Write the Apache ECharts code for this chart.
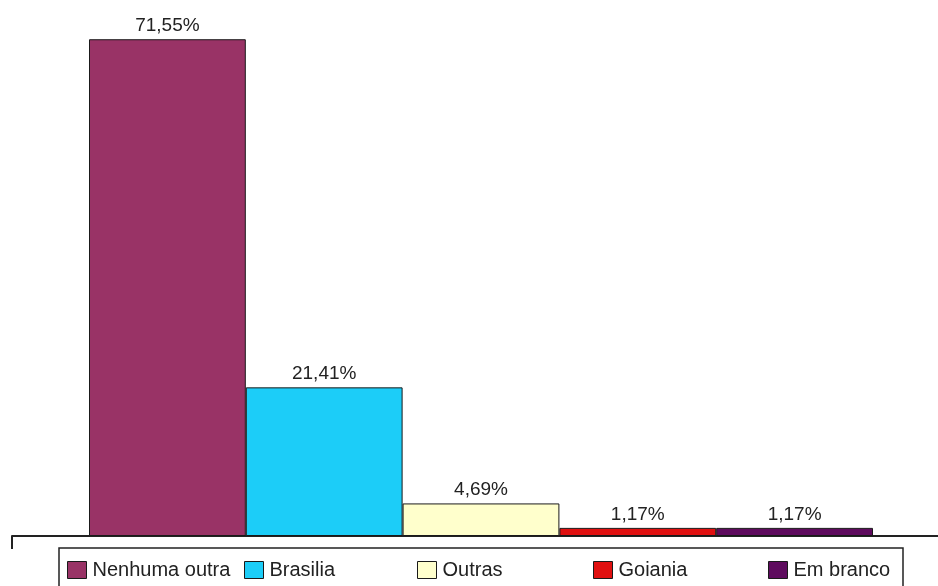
<!DOCTYPE html>
<html>
<head>
<meta charset="utf-8">
<script src="https://cdn.jsdelivr.net/npm/echarts@6/dist/echarts.min.js"></script>
<style>
html,body{margin:0;padding:0;background:#fff;overflow:hidden;width:938px;height:586px;}
#chart{width:962px;height:586px;}
</style>
</head>
<body>
<div id="chart"></div>
<script>
const categories = ['Nenhuma outra', 'Brasilia', 'Outras', 'Goiania', 'Em branco'];
const values = [71.55, 21.41, 4.69, 1.17, 1.17];
const colors = ['#993366', '#1ccdf8', '#ffffcc', '#e01010', '#5e0b5e'];
const legendLeft = [67, 244, 417, 593, 768];

const FONT = '"Liberation Sans", Arial, sans-serif';

const series = categories.map((name, i) => ({
  name: name,
  type: 'bar',
  data: [values[i]],
  barWidth: 156.8,
  barGap: '0%',
  itemStyle: { color: colors[i], borderColor: '#1a1a1a', borderWidth: 1 },
  label: {
    show: true,
    position: 'top',
    distance: 4,
    formatter: p => p.value.toFixed(2).replace('.', ',') + '%',
    color: '#222',
    fontSize: 19,
    fontFamily: FONT
  },
  emphasis: { disabled: true }
}));

const legends = categories.map((name, i) => ({
  data: [{ name: name, icon: 'rect' }],
  left: legendLeft[i],
  top: 560,
  padding: 0,
  itemWidth: 19,
  itemHeight: 17,
  itemGap: 0,
  selectedMode: false,
  textStyle: { color: '#222', fontSize: 20, fontFamily: FONT, padding: [0, 0, 0, 1] },
  itemStyle: { borderColor: '#1a1a1a', borderWidth: 1 }
}));

const chart = echarts.init(document.getElementById('chart'));
chart.setOption({
  animation: false,
  backgroundColor: '#fff',
  grid: { left: 12, right: 12, top: 0, height: 536 },
  xAxis: {
    type: 'category',
    data: [''],
    axisLine: { lineStyle: { color: '#222', width: 2 } },
    axisTick: { show: true, length: 13, lineStyle: { color: '#222', width: 2 } },
    axisLabel: { show: false }
  },
  yAxis: { type: 'value', min: 0, max: 77.2, show: false, splitLine: { show: false } },
  legend: legends,
  graphic: [{
    type: 'rect',
    shape: { x: 59, y: 548, width: 844, height: 60 },
    style: { fill: 'none', stroke: '#222', lineWidth: 1.5 },
    silent: true
  }],
  series: series
});
</script>
</body>
</html>
